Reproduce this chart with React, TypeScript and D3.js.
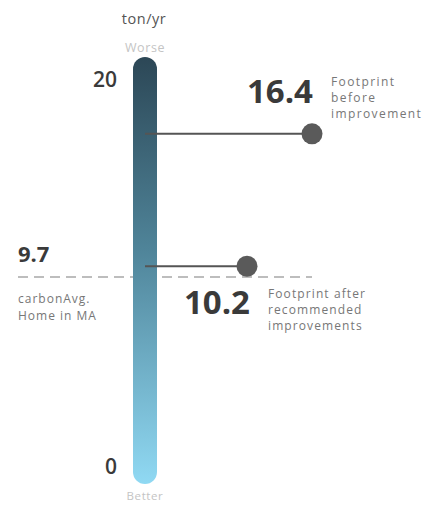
import React from "react";
import * as d3 from "d3";

const unitLabel = "ton/yr";
const scaleTicks = [0, 20];
const endLabels = ["Worse", "Better"];
const footprintValues = [16.4, 10.2];
const footprintLabels = [
  ["Footprint", "before", "improvement"],
  ["Footprint after", "recommended", "improvements"],
];
const averageValue = 9.7;
const averageLabel = ["carbonAvg.", "Home in MA"];

const W = 429;
const H = 506;
const FONT = "'Open Sans', 'Noto Sans', sans-serif";

export default function App() {
  const y = d3.scaleLinear().domain([0, 20]).range([484, 57]);
  const barX = 133;
  const barW = 24;
  const cx = barX + barW / 2;
  const dotX = [312, 247];

  const [top, bottom] = [y(20), y(0)];

  return (
    <svg
      width={W}
      height={H}
      style={{ position: "absolute", left: 0, top: 0, background: "#fff" }}
      fontFamily={FONT}
    >
      <defs>
        <linearGradient id="barGrad" x1="0" y1="0" x2="0" y2="1">
          <stop offset="0%" stopColor="#2c4756" />
          <stop offset="45%" stopColor="#4f8499" />
          <stop offset="100%" stopColor="#90d9f3" />
        </linearGradient>
      </defs>

      <text x={144} y={24} textAnchor="middle" fontSize={14.5} fill="#555" letterSpacing={0.5}>
        {unitLabel}
      </text>
      <text x={cx} y={52} textAnchor="middle" fontSize={12.5} fill="#c4c4c4" letterSpacing={0.6}>
        {endLabels[0]}
      </text>
      <text x={cx} y={500} textAnchor="middle" fontSize={11.5} fill="#c4c4c4" letterSpacing={0.6}>
        {endLabels[1]}
      </text>

      {/* average dashed line */}
      <line
        x1={18}
        x2={312}
        y1={y(averageValue)}
        y2={y(averageValue)}
        stroke="#bdbdbd"
        strokeWidth={2}
        strokeDasharray="10 6"
      />

      <rect
        x={barX}
        y={top}
        width={barW}
        height={bottom - top}
        rx={barW / 2}
        ry={barW / 2}
        fill="url(#barGrad)"
      />

      {scaleTicks.map((t) => (
        <text
          key={t}
          x={117}
          y={y(t) + (t === 20 ? 30 : -10)}
          textAnchor="end"
          fontSize={21}
          fontWeight={600}
          fill="#3a3a3a"
        >
          {t}
        </text>
      ))}

      {footprintValues.map((v, i) => (
        <g key={i}>
          <line x1={cx} x2={dotX[i]} y1={y(v)} y2={y(v)} stroke="#555" strokeWidth={2} />
          <circle cx={dotX[i]} cy={y(v)} r={10.5} fill="#5a5a5a" />
        </g>
      ))}

      {/* 16.4 label */}
      <text x={313} y={103} textAnchor="end" fontSize={33} fontWeight={700} fill="#3a3a3a">
        {footprintValues[0]}
      </text>
      {footprintLabels[0].map((l, i) => (
        <text key={l} x={331} y={86 + i * 16} fontSize={12} fill="#777" letterSpacing={1.4}>
          {l}
        </text>
      ))}

      {/* 10.2 label */}
      <text x={250} y={314} textAnchor="end" fontSize={33} fontWeight={700} fill="#3a3a3a">
        {footprintValues[1]}
      </text>
      {footprintLabels[1].map((l, i) => (
        <text key={l} x={268} y={298 + i * 16} fontSize={12} fill="#777" letterSpacing={1.1}>
          {l}
        </text>
      ))}

      {/* average label */}
      <text x={18} y={262} fontSize={22} fontWeight={700} fill="#3a3a3a">
        {averageValue}
      </text>
      {averageLabel.map((l, i) => (
        <text key={l} x={18} y={303 + i * 17} fontSize={12} fill="#777" letterSpacing={1}>
          {l}
        </text>
      ))}
    </svg>
  );
}
